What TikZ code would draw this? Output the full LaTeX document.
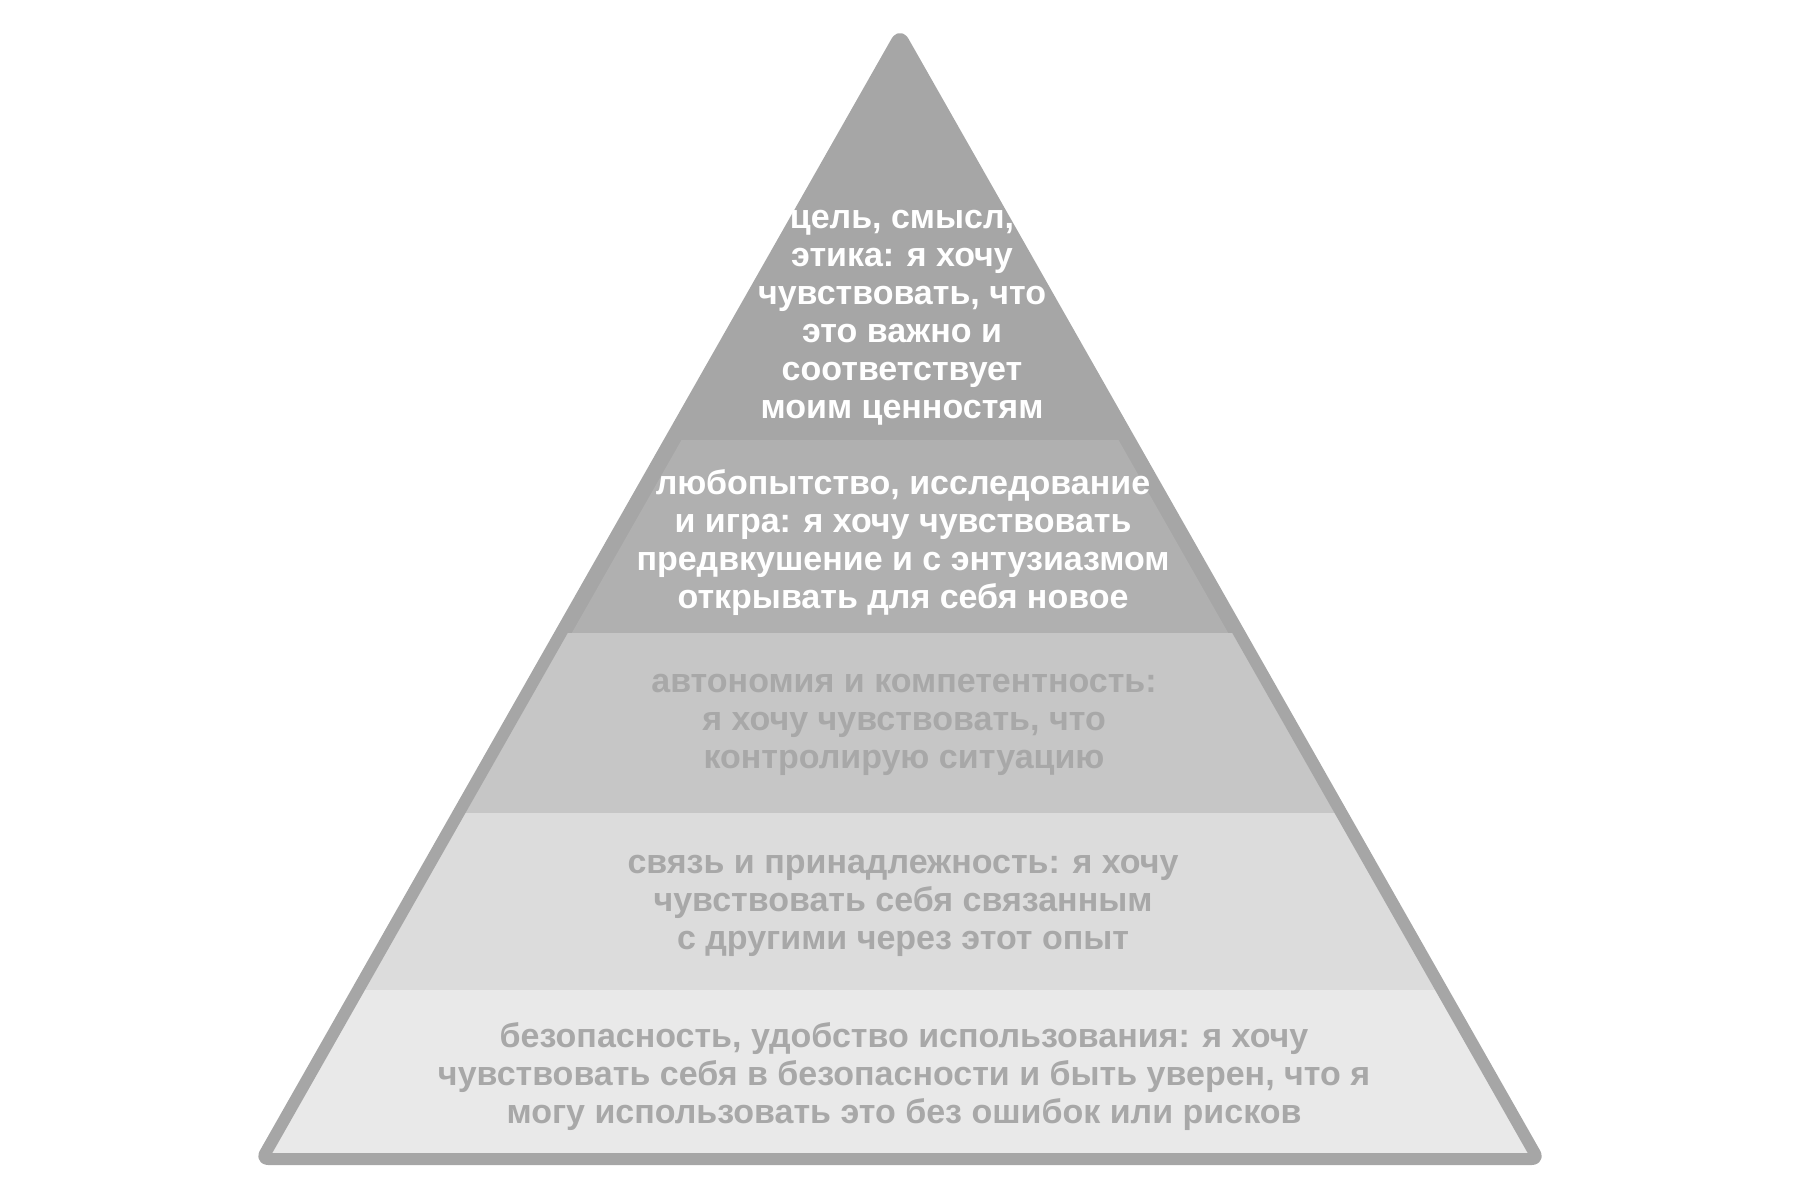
\documentclass[tikz,border=0pt]{standalone}
\usepackage{fontspec}
\setmainfont{Liberation Sans}
\definecolor{cone}{HTML}{A6A6A6}
\definecolor{ctwo}{HTML}{B0B0B0}
\definecolor{cthree}{HTML}{C6C6C6}
\definecolor{cfour}{HTML}{DCDCDC}
\definecolor{cfive}{HTML}{E9E9E9}
\definecolor{ctext}{HTML}{A8A8A8}
\tikzset{
  lbl/.style={align=center, font=\fontsize{34}{38}\selectfont\bfseries, inner sep=0pt},
  lightlbl/.style={lbl, text=white},
  darklbl/.style={lbl, text=ctext},
  outline/.style={draw=cone, line width=12pt, rounded corners=6pt, line join=round}
}
\begin{document}
\begin{tikzpicture}[x=1pt,y=-1pt]
\useasboundingbox (0,0) rectangle (1800,1200);
\coordinate (A) at (900,36);
\coordinate (B) at (262,1159);
\coordinate (C) at (1538,1159);
\fill[cone, rounded corners=6pt] (A) -- (B) -- (C) -- cycle;
\begin{scope}
  \clip[rounded corners=6pt] (A) -- (B) -- (C) -- cycle;
  \fill[ctwo] (681.5,440) -- (1118.5,440) -- (1228.2,633) -- (571.8,633) -- cycle;
  \fill[cthree] (0,633) rectangle (1800,813);
  \fill[cfour] (0,813) rectangle (1800,990);
  \fill[cfive] (0,990) rectangle (1800,1175);
\end{scope}
\draw[outline] (A) -- (B) -- (C) -- cycle;

\node[lightlbl] (t1) at (902,318) {цель, смысл,\\этика: я хочу\\чувствовать, что\\это важно и\\соответствует\\моим ценностям};
\node[lightlbl] (t2) at (903,543) {любопытство, исследование\\и игра: я хочу чувствовать\\предвкушение и с энтузиазмом\\открывать для себя новое};
\node[darklbl] (t3) at (904,725) {автономия и компетентность:\\я хочу чувствовать, что\\контролирую ситуацию};
\node[darklbl] (t4) at (903,906) {связь и принадлежность: я хочу\\чувствовать себя связанным\\с другими через этот опыт};
\node[darklbl] (t5) at (904,1077) {безопасность, удобство использования: я хочу\\чувствовать себя в безопасности и быть уверен, что я\\могу использовать это без ошибок или рисков};
\end{tikzpicture}
\end{document}
